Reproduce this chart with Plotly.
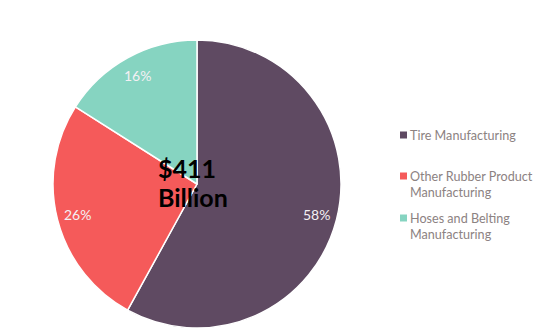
import math
import plotly.graph_objects as go

categories = ["Tire Manufacturing", "Other Rubber Product Manufacturing", "Hoses and Belting Manufacturing"]
legend_labels = ["Tire Manufacturing", "Other Rubber Product<br>Manufacturing", "Hoses and Belting<br>Manufacturing"]
shares = [58, 26, 16]
colors = ["#5f4a62", "#f55a5a", "#86d4c1"]
center_lines = ["$411", "Billion"]

W, H = 550, 335
cx, cy, r = 197, 184, 144

fig = go.Figure()
fig.add_trace(go.Pie(
    labels=categories, values=shares, sort=False, direction="clockwise", rotation=0,
    marker=dict(colors=colors, line=dict(color="white", width=1.5)),
    textinfo="none",
    domain=dict(x=[(cx - r) / W, (cx + r) / W], y=[(H - cy - r) / H, (H - cy + r) / H]),
    showlegend=False, hoverinfo="label+percent",
))

# percentage labels placed near the outer part of each slice
total = sum(shares)
cum = 0
for v in shares:
    mid = (cum + v / 2) / total * 2 * math.pi
    cum += v
    rr = 0.86 * r
    px = cx + rr * math.sin(mid)
    py = cy - rr * math.cos(mid)
    fig.add_annotation(
        x=px / W, y=1 - py / H, xref="paper", yref="paper", xanchor="center", yanchor="middle",
        text=f"{v}%", showarrow=False,
        font=dict(family="Lato", size=14, color="#f4f0f4"),
    )

for txt, y in zip(center_lines, [168, 197]):
    fig.add_annotation(
        x=156 / W, y=1 - y / H, xref="paper", yref="paper", xanchor="left", yanchor="middle",
        text="<b>" + txt + "</b>", align="left", showarrow=False,
        font=dict(family="Lato", size=25, color="black"),
    )

leg_y = [135, 184, 226]
for lab, y in zip(legend_labels, leg_y):
    fig.add_annotation(
        x=408 / W, y=1 - y / H, xref="paper", yref="paper", xanchor="left", yanchor="middle",
        text=lab, align="left", showarrow=False,
        font=dict(family="Lato", size=12.6, color="#8c8282"),
    )

for col, y in zip(colors, [135, 176, 218]):
    fig.add_shape(type="rect", xref="paper", yref="paper",
                  x0=400 / W, x1=407 / W, y0=1 - (y + 3.5) / H, y1=1 - (y - 3.5) / H,
                  fillcolor=col, line=dict(width=0))

fig.update_layout(width=W, height=H, margin=dict(l=0, r=0, t=0, b=0),
                  paper_bgcolor="white", plot_bgcolor="white")
fig.write_html("out.html")
